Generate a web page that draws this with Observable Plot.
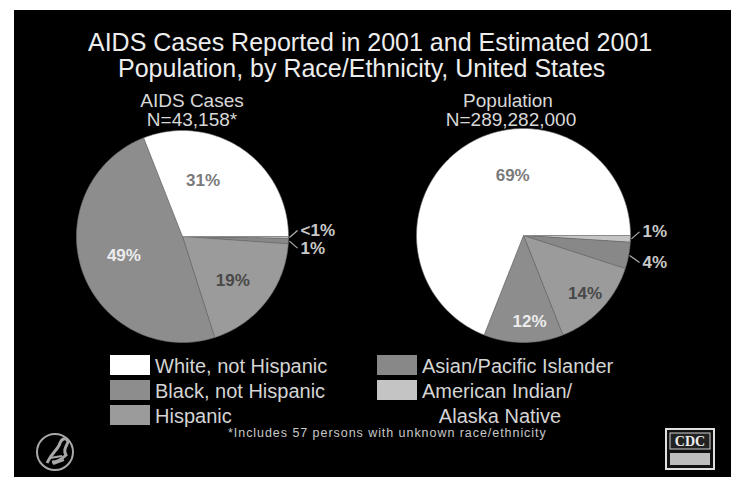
<!DOCTYPE html>
<html><head><meta charset="utf-8">
<script src="https://cdn.jsdelivr.net/npm/d3@7"></script>
<script src="https://cdn.jsdelivr.net/npm/@observablehq/plot@0.6"></script>
<style>
html,body{margin:0;padding:0;background:#fff;}
#page{position:relative;width:731px;height:477px;overflow:hidden;font-family:"Liberation Sans",Arial,sans-serif;}
#bg{position:absolute;left:14px;top:10px;right:0;bottom:0;background:#000;}
.t{position:absolute;white-space:nowrap;line-height:1;}
.title{color:#ededed;font-size:25px;}
.sub{color:#d8d8d8;font-size:19px;transform:translateX(-50%);}
.leg{color:#d4d4d4;font-size:20px;}
.sw{position:absolute;width:40px;height:20px;}
#chart{position:absolute;left:0;top:0;}
</style></head>
<body>
<div id="page">
  <div id="bg"></div>
  <div id="chart"></div>
  <div id="texts"></div>
  <svg style="position:absolute;left:0;top:0" width="731" height="477">
    <g fill="none" stroke="#a8a8a8" stroke-width="2">
      <circle cx="55" cy="452" r="18"/>
      <path d="M47,463 C52,452 58,450 60,443 C62,438 67,437 68,442 C66,447 63,450 66,455 C62,459 56,462 52,462" stroke-width="3"/>
      <path d="M50,458 L62,456 M53,464 L64,460"/>
    </g>
    <g>
      <rect x="666" y="429" width="48" height="40" fill="#111" stroke="#e0e0e0" stroke-width="2"/>
      <rect x="670" y="433" width="40" height="16" fill="#222" stroke="#cfcfcf" stroke-width="1"/>
      <text x="690" y="446" text-anchor="middle" font-family="Liberation Serif,serif" font-weight="bold" font-size="14" fill="#eee">CDC</text>
      <rect x="670" y="453" width="40" height="12" fill="#bdbdbd"/>
    </g>
  </svg>
</div>
<script>
// ---- data ----
const categories = ["American Indian/Alaska Native", "Asian/Pacific Islander", "Hispanic", "Black, not Hispanic", "White, not Hispanic"];
const casesPct = [0.3, 0.8, 19, 49, 31];
const populationPct = [1, 4, 14, 12, 69];
const categoryColors = ["#c4c4c4", "#888888", "#9b9b9b", "#8d8d8d", "#ffffff"];
const pieTitles = ["AIDS Cases", "Population"];
const pieTotals = ["N=43,158*", "N=289,282,000"];
const titleLines = ["AIDS Cases Reported in 2001 and Estimated 2001", "Population, by Race/Ethnicity, United States"];
const legendOrder = ["White, not Hispanic", "Black, not Hispanic", "Hispanic", "Asian/Pacific Islander", "American Indian/Alaska Native"];
const legendText = ["White, not Hispanic", "Black, not Hispanic", "Hispanic", "Asian/Pacific Islander", "American Indian/"];
const legendExtra = "Alaska Native";
const footnote = "*Includes 57 persons with unknown race/ethnicity";

// ---- layout ----
const pies = [
  {name: "cases", values: casesPct, cx: 182, cy: 236, r: 106},
  {name: "population", values: populationPct, cx: 523, cy: 235, r: 107}
];
const insideLayout = {
  cases: {"White, not Hispanic": {frac: 0.56, turn: -14}, "Black, not Hispanic": {frac: 0.58, turn: 2}, "Hispanic": {frac: 0.63, turn: 3}},
  population: {"White, not Hispanic": {frac: 0.57, turn: 24}, "Black, not Hispanic": {frac: 0.81, turn: -4}, "Hispanic": {frac: 0.79, turn: 0}}
};
const labelInk = {"White, not Hispanic": "#7a7a7a", "Black, not Hispanic": "#ececec", "Hispanic": "#484848"};
const rad = Math.PI / 180;

function fmt(v) { return v < 0.5 ? "<1%" : Math.round(v) + "%"; }

const pieGen = d3.pie().sort(null).value(d => d.value).startAngle(Math.PI / 2).endAngle(Math.PI / 2 + 2 * Math.PI);
const polys = [], inside = [], outside = [];
for (const p of pies) {
  const arcs = pieGen(categories.map((c, i) => ({category: c, value: p.values[i]})));
  let smallIdx = 0;
  arcs.forEach(a => {
    const id = p.name + "|" + a.data.category;
    polys.push({id, category: a.data.category, x: p.cx, y: p.cy});
    const n = Math.max(2, Math.ceil((a.endAngle - a.startAngle) / rad));
    for (let k = 0; k <= n; k++) {
      const t = a.startAngle + (a.endAngle - a.startAngle) * k / n;
      polys.push({id, category: a.data.category, x: p.cx + p.r * Math.sin(t), y: p.cy - p.r * Math.cos(t)});
    }
    polys.push({id, category: a.data.category, x: p.cx, y: p.cy});
    const mid = (a.startAngle + a.endAngle) / 2;
    if (a.data.value >= 5) {
      const L = insideLayout[p.name][a.data.category];
      const ang = mid + L.turn * rad;
      inside.push({category: a.data.category, text: fmt(a.data.value),
        x: p.cx + L.frac * p.r * Math.sin(ang), y: p.cy - L.frac * p.r * Math.cos(ang)});
    } else {
      const ex = p.cx + p.r * Math.sin(mid), ey = p.cy - p.r * Math.cos(mid);
      const ly = ey + (smallIdx === 0 ? -7 : 7);
      smallIdx++;
      outside.push({text: fmt(a.data.value), x1: ex + 1, y1: ey, x2: p.cx + p.r + 9, y2: ly, tx: p.cx + p.r + 12});
    }
  });
}

const marks = [
  Plot.line(polys, {x: "x", y: "y", z: "id", fill: "category", stroke: "#6e6e6e", strokeWidth: 0.6, curve: "linear"}),
  Plot.link(outside, {x1: "x1", y1: "y1", x2: "x2", y2: "y2", stroke: "#b0b0b0", strokeWidth: 1.2}),
  Plot.text(outside, {x: "tx", y: "y2", text: "text", textAnchor: "start", fill: "#c8c8c8", fontSize: 17, fontWeight: 600})
];
for (const cat of Object.keys(labelInk)) {
  marks.push(Plot.text(inside.filter(d => d.category === cat), {x: "x", y: "y", text: "text", fill: labelInk[cat], fontSize: 17, fontWeight: 600}));
}

const chart = Plot.plot({
  width: 731, height: 477, margin: 0,
  x: {domain: [0, 731], range: [0, 731], axis: null},
  y: {domain: [0, 477], range: [0, 477], axis: null},
  color: {domain: categories, range: categoryColors},
  style: {background: "transparent", fontFamily: "Liberation Sans, Arial, sans-serif"},
  marks
});
document.getElementById("chart").append(chart);

// ---- text & legend (HTML) ----
const T = document.getElementById("texts");
function add(cls, text, left, top, extra) {
  const d = document.createElement("div");
  d.className = "t " + cls; d.textContent = text;
  d.style.left = left + "px"; d.style.top = top + "px";
  if (extra) Object.assign(d.style, extra);
  T.append(d); return d;
}
add("title", titleLines[0], 88, 30);
add("title", titleLines[1], 118, 56);
add("sub", pieTitles[0], 192, 91);
add("sub", pieTotals[0], 192, 110);
add("sub", pieTitles[1], 508, 91);
add("sub", pieTotals[1], 511, 110);

const legPos = [[110, 355], [110, 380], [110, 405], [377, 355], [377, 380]];
legendOrder.forEach((c, i) => {
  const s = document.createElement("div");
  s.className = "sw";
  s.style.left = legPos[i][0] + "px"; s.style.top = legPos[i][1] + "px";
  s.style.background = categoryColors[categories.indexOf(c)];
  T.append(s);
  add("leg", legendText[i], legPos[i][0] + 45, legPos[i][1] + 1);
});
add("leg", legendExtra, 500, 406, {transform: "translateX(-50%)"});
add("", footnote, 228, 427, {color: "#c8c8c8", fontSize: "12.5px", letterSpacing: "0.95px"});
</script>
</body></html>
